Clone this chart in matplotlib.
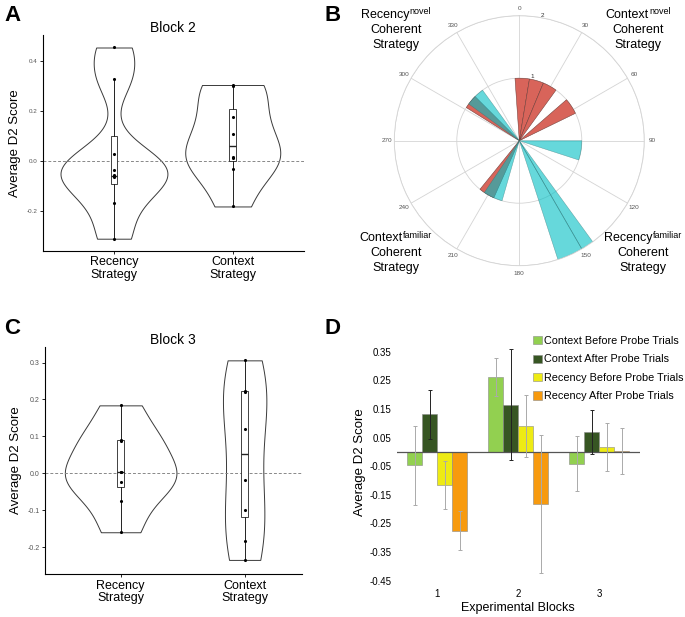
import numpy as np
import matplotlib
matplotlib.use("Agg")
import matplotlib.pyplot as plt
from matplotlib.patches import Patch

plt.rcParams['font.family'] = ['Liberation Sans', 'DejaVu Sans']
plt.rcParams['axes.unicode_minus'] = False

# ---- data ----
strategies = ['Recency\nStrategy', 'Context\nStrategy']

# Block 2 (panel A): individual D2 scores and box stats
b2_recency = [-0.31, -0.166, -0.064, -0.055, -0.035, 0.028, 0.33, 0.455]
b2_context = [-0.181, -0.031, 0.012, 0.015, 0.108, 0.176, 0.300, 0.305]
b2_q1 = [-0.092, 0.002]
b2_med = [-0.059, 0.062]
b2_q3 = [0.099, 0.207]
b2_lo = [-0.31, -0.181]
b2_hi = [0.33, 0.305]

# Block 3 (panel C)
b3_recency = [-0.16, -0.074, -0.024, 0.002, 0.004, 0.088, 0.090, 0.184]
b3_context = [-0.235, -0.185, -0.099, -0.018, 0.121, 0.221, 0.223, 0.306]
b3_q1 = [-0.037, -0.120]
b3_med = [0.003, 0.052]
b3_q3 = [0.089, 0.222]
b3_lo = [-0.16, -0.235]
b3_hi = [0.184, 0.306]

# panel B: rose histogram (angle in degrees, bin width, count)
red_theta = [2.7, 16.0, 29.3, 56.5, 211.5, 308.5]
red_width = [13.3, 13.3, 13.3, 15, 15, 13]
red_count = [1, 1, 1, 1, 1, 1]
cyan_theta = [99, 147, 156, 205, 315]
cyan_width = [18, 6, 12, 18, 18]
cyan_count = [1, 2, 2, 1, 1]

# panel D
blocks = ['1', '2', '3']
series = ['Context Before Probe Trials', 'Context After Probe Trials',
          'Recency Before Probe Trials', 'Recency After Probe Trials']
ctx_before = [-0.047, 0.262, -0.041]
ctx_after = [0.131, 0.165, 0.070]
rec_before = [-0.116, 0.091, 0.016]
rec_after = [-0.275, -0.182, 0.002]
ctx_before_err = [0.137, 0.065, 0.097]
ctx_after_err = [0.086, 0.193, 0.078]
rec_before_err = [0.083, 0.108, 0.084]
rec_after_err = [0.069, 0.241, 0.081]


def nrd0(kde):
    d = kde.dataset[0]
    sd = d.std(ddof=1)
    q75, q25 = np.percentile(d, [75, 25])
    h = 0.9 * min(sd, (q75 - q25) / 1.34) * len(d) ** -0.2
    return h / sd


fig = plt.figure(figsize=(6.85, 6.17), dpi=100)
W, H = 685, 617


def rect(x0, y0, x1, y1):
    return [x0 / W, 1 - y1 / H, (x1 - x0) / W, (y1 - y0) / H]


def violin_panel(ax, rec, ctx, q1, med, q3, lo, hi, vwidths, title, tick_fs):
    parts = ax.violinplot([rec, ctx], positions=[1, 2], widths=vwidths,
                          showextrema=False, bw_method=nrd0, points=300)
    for b in parts['bodies']:
        b.set_facecolor('white')
        b.set_edgecolor('#3a3a3a')
        b.set_linewidth(0.7)
        b.set_alpha(1)
    ax.axhline(0, color='#888888', lw=0.7, ls=(0, (3, 2)), zorder=1.5)
    stats = [dict(q1=q1[i], med=med[i], q3=q3[i], whislo=lo[i], whishi=hi[i])
             for i in range(2)]
    ax.bxp(stats, positions=[1, 2], widths=0.055, showfliers=False,
           showcaps=False, patch_artist=True,
           boxprops=dict(facecolor='white', edgecolor='#222222', lw=0.6),
           medianprops=dict(color='#222222', lw=1.0),
           whiskerprops=dict(color='#222222', lw=0.7))
    for i, vals in enumerate([rec, ctx]):
        ax.scatter([i + 1] * len(vals), vals, s=5, color='black', zorder=5,
                   linewidths=0)
    ax.set_xticks([1, 2])
    ax.set_xticklabels(strategies, fontsize=9, linespacing=1.05)
    ax.set_ylabel('Average D2 Score', fontsize=9.5, labelpad=4)
    ax.set_title(title, fontsize=10, pad=1)
    for s in ['top', 'right']:
        ax.spines[s].set_visible(False)
    for s in ['left', 'bottom']:
        ax.spines[s].set_linewidth(0.8)
    ax.tick_params(axis='y', labelsize=tick_fs, labelcolor='#555555',
                   length=2, width=0.6, pad=2)
    ax.tick_params(axis='x', length=2, width=0.6, pad=2)


# ---- A ----
axA = fig.add_axes(rect(42.7, 35, 304, 250.7))
violin_panel(axA, b2_recency, b2_context, b2_q1, b2_med, b2_q3, b2_lo, b2_hi,
             [0.9, 0.8], 'Block 2', 4.5)
axA.set_xlim(0.4, 2.6)
axA.set_ylim(-0.358, 0.505)
axA.set_yticks([-0.2, 0.0, 0.2, 0.4])
axA.set_yticklabels(['-0.2', '0.0', '0.2', '0.4'])

# ---- C ----
axC = fig.add_axes(rect(45, 346.7, 301.7, 574.3))
violin_panel(axC, b3_recency, b3_context, b3_q1, b3_med, b3_q3, b3_lo, b3_hi,
             [0.9, 0.35], 'Block 3', 5)
axC.set_xlim(0.39, 2.46)
axC.set_ylim(-0.274, 0.343)
axC.set_yticks([-0.2, -0.1, 0.0, 0.1, 0.2, 0.3])
axC.set_yticklabels(['-0.2', '-0.1', '0.0', '0.1', '0.2', '0.3'])

# ---- B ----
cx, cy, R = 519.3, 140.7, 125
axB = fig.add_axes(rect(cx - R, cy - R, cx + R, cy + R), projection='polar')
axB.set_theta_zero_location('N')
axB.set_theta_direction(-1)
axB.set_axisbelow(True)
axB.bar(np.deg2rad(red_theta), red_count, width=np.deg2rad(red_width),
        bottom=0, color='#D8645A', edgecolor='#6a3a35', linewidth=0.35)
axB.bar(np.deg2rad(cyan_theta), cyan_count, width=np.deg2rad(cyan_width),
        bottom=0, color='#00BFC4', alpha=0.6, edgecolor='#2f6f70',
        linewidth=0.35)
axB.set_ylim(0, 2)
axB.set_rticks([1, 2])
axB.set_rlabel_position(10)
axB.set_thetagrids(range(0, 360, 30), [str(a) for a in range(0, 360, 30)])
axB.tick_params(axis='x', labelsize=4.6, labelcolor='#555555', pad=-5)
axB.tick_params(axis='y', labelsize=4.6, labelcolor='#333333')
axB.grid(color='#d4d4d4', lw=0.6)
axB.spines['polar'].set_color('#d4d4d4')
axB.spines['polar'].set_linewidth(0.6)

renderer = fig.canvas.get_renderer()


def corner_label(xc, y1, word, sup):
    t1 = fig.text(0, 0, word, fontsize=9, va='center', ha='left')
    t2 = fig.text(0, 0, sup, fontsize=6.5, va='center', ha='left')
    w1 = t1.get_window_extent(renderer).width
    w2 = t2.get_window_extent(renderer).width
    x0 = xc - (w1 + w2 + 0.5) / 2
    t1.set_position((x0 / W, 1 - y1 / H))
    t2.set_position(((x0 + w1 + 0.5) / W, 1 - (y1 - 3) / H))
    fig.text(xc / W, 1 - (y1 + 15) / H, 'Coherent', ha='center', va='center',
             fontsize=9)
    fig.text(xc / W, 1 - (y1 + 30) / H, 'Strategy', ha='center', va='center',
             fontsize=9)


corner_label(396, 15, 'Recency', 'novel')
corner_label(638, 15, 'Context', 'novel')
corner_label(396, 238, 'Context', 'familiar')
corner_label(643, 238, 'Recency', 'familiar')

# ---- D ----
axD = fig.add_axes(rect(396.7, 337.4, 639.7, 586.4))
x = np.arange(1, 4)
w = 0.185
vals = [ctx_before, ctx_after, rec_before, rec_after]
errs = [ctx_before_err, ctx_after_err, rec_before_err, rec_after_err]
colors = ['#92D050', '#375623', '#EEEB14', '#F79A0E']
ecolors = ['#aaaaaa', '#222222', '#aaaaaa', '#aaaaaa']
for i in range(4):
    xi = x + (i - 1.5) * w
    axD.bar(xi, vals[i], w, color=colors[i], edgecolor='#8a8a8a', lw=0.4,
            label=series[i], zorder=2)
    axD.errorbar(xi, vals[i], yerr=errs[i], fmt='none', ecolor=ecolors[i],
                 elinewidth=0.7, capsize=1.5, capthick=0.7, zorder=3)
axD.axhline(0, color='#555555', lw=0.9, zorder=2.5)
axD.set_xlim(0.5, 3.5)
axD.set_ylim(-0.47, 0.40)
yt = np.arange(-0.45, 0.36, 0.1)
axD.set_yticks(yt)
axD.set_yticklabels(['%.2f' % v for v in yt])
axD.set_xticks(x)
axD.set_xticklabels(blocks)
axD.tick_params(axis='both', length=0, labelsize=7, pad=4)
axD.tick_params(axis='x', pad=2)
for s in axD.spines.values():
    s.set_visible(False)
axD.set_xlabel('Experimental Blocks', fontsize=9, labelpad=2)
axD.set_ylabel('Average D2 Score', fontsize=9.5, labelpad=2)
handles = [Patch(facecolor=c, edgecolor='#8a8a8a', lw=0.4) for c in colors]
fig.legend(handles, series, loc='upper left',
           bbox_to_anchor=(533 / W, 1 - 336 / H), frameon=False,
           fontsize=7.8, handlelength=0.8, handleheight=0.8,
           handletextpad=0.25, labelspacing=0.78, borderpad=0, borderaxespad=0)

# panel letters
for lab, px, py in [('A', 4, 5), ('B', 325, 5), ('C', 4, 318), ('D', 325, 318)]:
    fig.text(px / W, 1 - py / H, lab, fontsize=16, fontweight='bold',
             va='top', ha='left')

fig.savefig('out.png', dpi=100)
